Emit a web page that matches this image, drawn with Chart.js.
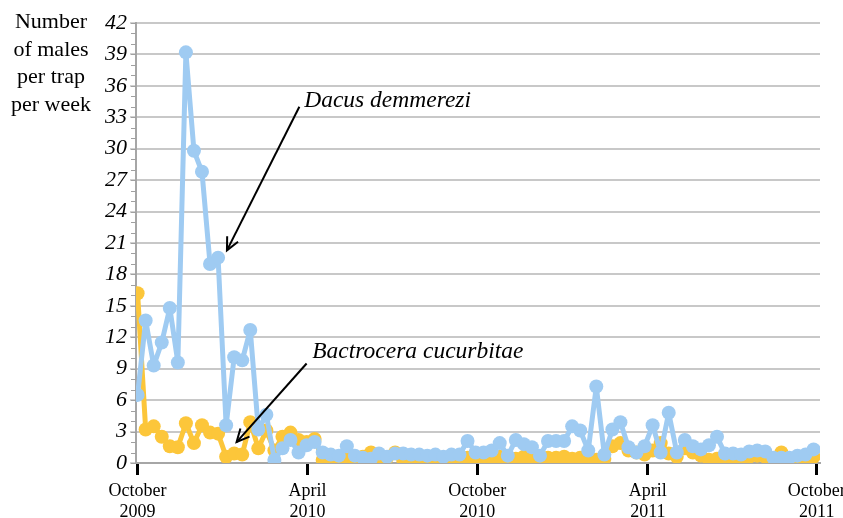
<!DOCTYPE html>
<html>
<head>
<meta charset="utf-8">
<script src="https://cdn.jsdelivr.net/npm/chart.js@4.4.0/dist/chart.umd.min.js"></script>
<style>
html,body{margin:0;padding:0;background:#fff;}
#wrap{position:relative;width:843px;height:518px;}
</style>
</head>
<body>
<div id="wrap"><canvas id="c" width="843" height="518"></canvas></div>
<script>
// Weekly samples (index = sampling week from October 2009)
const dacusDemmerezi = [6.5,13.6,9.3,11.5,14.8,9.6,39.2,29.8,27.8,19.0,19.6,3.6,10.1,9.8,12.7,3.2,4.6,0.3,1.4,2.2,
  1.0,1.7,2.0,1.0,0.8,0.7,1.6,0.7,0.5,0.4,0.9,0.6,0.9,0.9,0.8,0.8,0.7,0.8,0.6,0.8,
  0.8,2.1,1.0,1.0,1.2,1.9,0.7,2.2,1.8,1.5,0.7,2.1,2.1,2.1,3.5,3.1,1.2,7.3,0.8,3.2,
  3.9,1.5,1.0,1.6,3.6,1.0,4.8,1.0,2.2,1.6,1.3,1.7,2.5,0.9,0.9,0.8,1.1,1.2,1.1,0.5,
  0.5,0.5,0.7,0.8,1.3];
const bactroceraCucurbitae = [16.2,3.2,3.5,2.5,1.6,1.5,3.8,1.9,3.6,2.9,2.8,0.6,0.9,0.8,3.9,1.4,3.1,1.2,2.5,2.9,
  2.2,2.0,2.3,0.3,0.2,0.3,0.4,0.2,0.6,1.0,0.4,0.5,1.0,0.3,0.2,0.4,0.3,0.5,0.3,0.6,
  0.2,0.5,0.4,0.3,0.5,0.6,0.3,0.4,0.6,0.3,0.4,0.5,0.5,0.6,0.4,0.5,0.6,0.3,0.4,1.6,
  1.9,1.2,1.0,0.8,1.2,1.9,0.9,0.6,1.4,1.0,0.7,0.3,0.4,0.3,0.2,0.3,0.6,0.7,0.6,0.4,
  1.0,0.4,0.2,0.3,0.6];
const xTickPositions = [0, 21.1, 42.2, 63.4, 84.4];
const xTickLabels = [["October","2009"],["April","2010"],["October","2010"],["April","2011"],["October","2011"]];
const yTitleLines = ["Number","of males","per trap","per week"];
const annotations = [
  {text:"Dacus demmerezi", tx:20.7, ty:34.6, x1:20.1, y1:34.0, x2:11.1, y2:20.3},
  {text:"Bactrocera cucurbitae", tx:21.7, ty:10.6, x1:21.0, y1:9.5, x2:12.3, y2:2.0}
];

const toXY = arr => arr.map((v,i)=>({x:i,y:v}));

const extras = {
  id:'extras',
  afterDraw(chart){
    const ctx = chart.ctx, xs = chart.scales.x, ys = chart.scales.y;
    ctx.save();
    // minor ticks on y axis
    ctx.strokeStyle = '#a0a0a0'; ctx.lineWidth = 1;
    for(let v=0; v<=42; v++){
      const py = Math.round(ys.getPixelForValue(v))+0.5;
      ctx.beginPath(); ctx.moveTo(xs.left-5, py); ctx.lineTo(xs.left, py); ctx.stroke();
    }
    // y title
    ctx.fillStyle = '#000';
    ctx.font = '22px "Liberation Serif"';
    ctx.textAlign = 'center'; ctx.textBaseline = 'alphabetic';
    yTitleLines.forEach((l,i)=>ctx.fillText(l, 51, 28 + i*27.7));
    // annotations
    ctx.font = 'italic 23.5px "Liberation Serif"';
    ctx.textAlign = 'left'; ctx.textBaseline = 'middle';
    annotations.forEach(a=>{
      ctx.fillText(a.text, xs.getPixelForValue(a.tx), ys.getPixelForValue(a.ty));
      const x1 = xs.getPixelForValue(a.x1), y1 = ys.getPixelForValue(a.y1);
      const x2 = xs.getPixelForValue(a.x2), y2 = ys.getPixelForValue(a.y2);
      ctx.strokeStyle = '#000'; ctx.lineWidth = 2;
      ctx.beginPath(); ctx.moveTo(x1,y1); ctx.lineTo(x2,y2); ctx.stroke();
      const ang = Math.atan2(y2-y1, x2-x1), L = 14, s = 0.45;
      ctx.beginPath();
      ctx.moveTo(x2 - L*Math.cos(ang - s), y2 - L*Math.sin(ang - s));
      ctx.lineTo(x2, y2);
      ctx.lineTo(x2 - L*Math.cos(ang + s), y2 - L*Math.sin(ang + s));
      ctx.stroke();
    });
    ctx.restore();
  }
};

new Chart(document.getElementById('c'), {
  type:'line',
  data:{
    datasets:[
      {label:'Dacus demmerezi', data:toXY(dacusDemmerezi), borderColor:'#9fcbf2', backgroundColor:'#9fcbf2',
       borderWidth:5, pointRadius:7, pointBorderWidth:0, tension:0, borderJoinStyle:'round', borderCapStyle:'round', order:0},
      {label:'Bactrocera cucurbitae', data:toXY(bactroceraCucurbitae), borderColor:'#fcc63a', backgroundColor:'#fcc63a',
       borderWidth:5, pointRadius:7, pointBorderWidth:0, tension:0, borderJoinStyle:'round', borderCapStyle:'round', order:1}
    ]
  },
  options:{
    responsive:false, animation:false,
    layout:{padding:{top:23, right:23, left:0, bottom:0}},
    plugins:{legend:{display:false}, tooltip:{enabled:false}},
    scales:{
      x:{type:'linear', min:-0.2, max:84.8,
        afterBuildTicks(s){ s.ticks = xTickPositions.map(v=>({value:v})); },
        afterFit(s){ s.height = 55; s.paddingRight = 0; s.paddingLeft = 0; },
        ticks:{autoSkip:false, maxRotation:0, color:'#000', padding:5,
          font:{family:'"Liberation Serif"', size:18, lineHeight:1.2},
          callback:(v,i)=>xTickLabels[i]},
        grid:{drawOnChartArea:false, color:'#000', tickLength:12, tickWidth:3, tickColor:'#000'},
        border:{color:'#a6a6a6', width:2}
      },
      y:{min:0, max:42,
        afterFit(s){ s.width = 136; s.paddingTop = 0; s.paddingBottom = 0; },
        ticks:{stepSize:3, color:'#000', padding:3,
          font:{family:'"Liberation Serif"', size:22, style:'italic'}},
        grid:{color:'#c8c8c8', lineWidth:2, tickLength:6, tickColor:'#a0a0a0', tickWidth:1},
        border:{color:'#a6a6a6', width:2}
      }
    }
  },
  plugins:[extras]
});
</script>
</body>
</html>
